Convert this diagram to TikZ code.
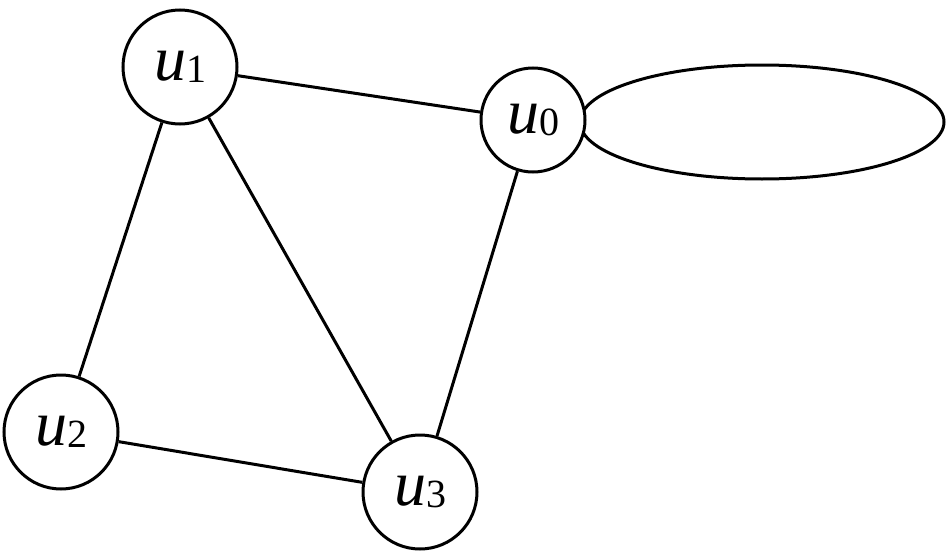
\documentclass[tikz,border=0pt]{standalone}
\usepackage{fontspec}
\setmainfont{Liberation Serif}
\newcommand{\vlab}[1]{\textit{u}{\fontsize{40}{42}\selectfont\raisebox{-2pt}{#1}}}
\begin{document}
\begin{tikzpicture}[x=1pt,y=-1pt,line width=3pt,
  vtx/.style={circle,draw,fill=white,inner sep=0pt,minimum size=114pt,font=\fontsize{64}{66}\selectfont}]
\useasboundingbox (0,0) rectangle (946,554);
\draw (762,122) ellipse [x radius=182, y radius=57];
\node[vtx] (u1) at (180,67) {\vlab{1}};
\node[vtx,minimum size=104pt] (u0) at (533,120) {\vlab{0}};
\node[vtx] (u2) at (61,432) {\vlab{2}};
\node[vtx] (u3) at (420,492) {\vlab{3}};
\draw (u1) -- (u0);
\draw (u1) -- (u2);
\draw (u1) -- (u3);
\draw (u0) -- (u3);
\draw (u2) -- (u3);
\end{tikzpicture}
\end{document}
